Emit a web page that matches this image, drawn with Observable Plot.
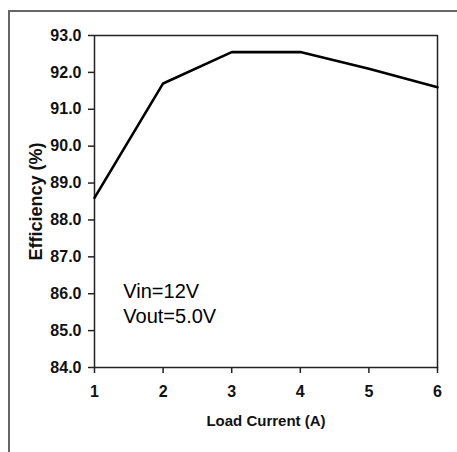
<!DOCTYPE html>
<html>
<head>
<meta charset="utf-8">
<script src="https://cdn.jsdelivr.net/npm/d3@7"></script>
<script src="https://cdn.jsdelivr.net/npm/@observablehq/plot@0.6"></script>
<style>
  html, body { margin: 0; padding: 0; background: #fff; }
  #wrap { position: relative; width: 457px; height: 452px; overflow: hidden; }
  #outer { position: absolute; left: 8px; top: 10px; width: 460px; height: 460px;
           border-top: 2px solid #666; border-left: 2px solid #666; box-sizing: border-box; }
  #wrap svg { position: absolute; left: 0; top: 0; }
</style>
</head>
<body>
<div id="wrap"><div id="outer"></div></div>
<script>
const loadCurrent = [1, 2, 3, 4, 5, 6];
const efficiency = [88.6, 91.7, 92.55, 92.55, 92.1, 91.6];
const yTicks = [84, 85, 86, 87, 88, 89, 90, 91, 92, 93];
const xTicks = [1, 2, 3, 4, 5, 6];
const xTitle = "Load Current (A)";
const yTitle = "Efficiency (%)";
const noteText = ["Vin=12V\nVout=5.0V"];
const noteX = [1.42];
const noteY = [85.75];

const data = loadCurrent.map((x, i) => ({x, y: efficiency[i]}));
const note = noteText.map((t, i) => ({t, x: noteX[i], y: noteY[i]}));

const sans = '"Liberation Sans", Arial, sans-serif';

const chart = Plot.plot({
  width: 457,
  height: 452,
  marginLeft: 94,
  marginRight: 20,
  marginTop: 35,
  marginBottom: 85,
  style: { background: "transparent", fontFamily: sans, fontWeight: "bold", fontSize: "16px", color: "#111" },
  x: { domain: [1, 6], ticks: xTicks, label: null },
  y: { domain: [84, 93], ticks: yTicks, label: null },
  marks: [
    Plot.frame({ stroke: "#222", strokeWidth: 1.5 }),
    Plot.axisX({ ticks: xTicks, tickSize: 6, tickPadding: 12, tickFormat: d3.format("d"), stroke: "#222", strokeWidth: 1.5, fontSize: 16, fontWeight: "bold", label: null }),
    Plot.axisY({ ticks: yTicks, tickSize: 6, tickPadding: 7, tickFormat: d3.format(".1f"), stroke: "#222", strokeWidth: 1.5, fontSize: 16, fontWeight: "bold", label: null }),
    Plot.line(data, { x: "x", y: "y", stroke: "#000", strokeWidth: 2.6 }),
    Plot.text([xTitle], { text: d => d, frameAnchor: "bottom", dy: 58, fontSize: 15, fontWeight: "bold", fill: "#111" }),
    Plot.text([yTitle], { text: d => d, frameAnchor: "left", textAnchor: "middle", rotate: -90, dx: -58, dy: 0, fontSize: 18, fontWeight: "bold", fill: "#111" }),
    Plot.text(note, { x: "x", y: "y", text: "t", textAnchor: "start", lineHeight: 1.25, fontSize: 20, fontWeight: "normal", fontFamily: sans, fill: "#000" })
  ]
});
document.getElementById("wrap").appendChild(chart);
</script>
</body>
</html>
